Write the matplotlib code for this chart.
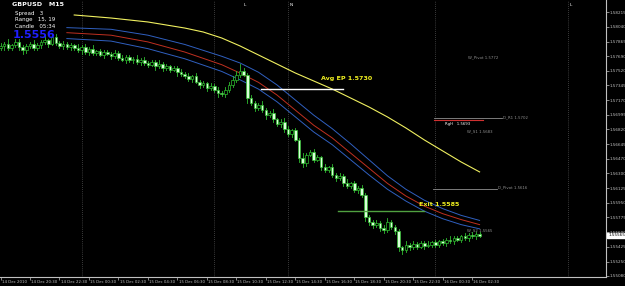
import matplotlib
matplotlib.use("Agg")
import matplotlib.pyplot as plt
from matplotlib.patches import Rectangle

# ---------------- data ----------------
closes = [1.5781, 1.5784, 1.5779, 1.5782, 1.5786, 1.5780, 1.5776, 1.5781, 1.5784, 1.5779,
          1.5782, 1.5786, 1.5788, 1.5784, 1.5792, 1.5785, 1.5781, 1.5784, 1.5780, 1.5782,
          1.5779, 1.5776, 1.5780, 1.5774, 1.5778, 1.5773, 1.5775, 1.5771, 1.5774, 1.5772,
          1.5769, 1.5773, 1.5767, 1.5765, 1.5768, 1.5764, 1.5766, 1.5762, 1.5765, 1.5761,
          1.5759, 1.5762, 1.5757, 1.5760, 1.5755, 1.5757, 1.5753, 1.5755, 1.5750, 1.5748,
          1.5746, 1.5742, 1.5745, 1.5739, 1.5735, 1.5737, 1.5731, 1.5734, 1.5729, 1.5725,
          1.5724, 1.5729, 1.5735, 1.5741, 1.5747, 1.5752,
          1.5747, 1.5719, 1.5714, 1.5708,
          1.5711, 1.5705, 1.5699, 1.5702, 1.5694, 1.5688, 1.5691, 1.5683, 1.5677, 1.5681,
          1.5670, 1.5648, 1.5642, 1.5652, 1.5655, 1.5646, 1.5649, 1.5638, 1.5634, 1.5637,
          1.5628, 1.5624, 1.5627, 1.5619, 1.5615, 1.5618, 1.5610, 1.5613, 1.5604, 1.5578,
          1.5572, 1.5568, 1.5571, 1.5565, 1.5563, 1.5572, 1.5566, 1.5561, 1.5542, 1.5539,
          1.5545, 1.5542, 1.5546, 1.5543, 1.5547, 1.5544, 1.5545, 1.5548, 1.5545, 1.5549,
          1.5547, 1.5551, 1.5549, 1.5553, 1.5551, 1.5555, 1.5553, 1.5557, 1.5555, 1.5558, 1.5556]
first_open = 1.5779
wick_up = [4, 2, 5, 2, 3, 4, 2, 3, 2, 4, 3, 2, 5, 2, 4, 3, 2, 3, 2, 3,
           2, 4, 2, 3, 2, 4, 2, 3, 2, 3, 2, 4, 2, 3, 2, 3, 2, 4, 2, 3,
           2, 3, 2, 4, 2, 3, 2, 3, 2, 4, 2, 3, 2, 4, 2, 3, 2, 3, 2, 3,
           3, 4, 3, 4, 5, 8, 3, 2, 4, 2, 3, 5, 3, 2, 4, 2, 3, 5, 3, 2,
           3, 2, 6, 2, 3, 4, 3, 2, 3, 2, 4, 2, 3, 2, 4, 2, 3, 2, 3, 2,
           3, 2, 4, 2, 3, 5, 3, 2, 3, 2, 4, 2, 3, 2, 3, 2, 4, 2, 3, 2,
           3, 2, 4, 2, 3, 2, 4, 2, 3, 2, 2]
wick_dn = [2, 4, 2, 3, 2, 3, 4, 3, 2, 3, 2, 3, 2, 4, 2, 3, 2, 3, 2, 3,
           3, 2, 4, 2, 3, 2, 3, 2, 4, 2, 3, 2, 3, 2, 4, 2, 3, 2, 3, 2,
           3, 2, 4, 2, 3, 2, 3, 2, 4, 2, 3, 2, 3, 2, 4, 2, 3, 2, 3, 4,
           2, 3, 2, 3, 2, 3, 2, 5, 3, 4, 3, 2, 4, 2, 3, 2, 3, 4, 3, 4,
           2, 5, 4, 3, 2, 3, 2, 4, 2, 3, 2, 3, 2, 4, 2, 3, 2, 3, 2, 5,
           3, 3, 2, 3, 4, 3, 2, 3, 4, 5, 2, 3, 2, 3, 2, 4, 2, 3, 2, 3,
           2, 3, 2, 3, 2, 3, 2, 3, 2, 3, 2]

ma_idx = [20, 30, 40, 50, 55, 60, 65, 70, 75, 80, 85, 90, 95, 100, 105, 110, 115, 120, 125, 130]
ma_yellow = [1.58180, 1.58144, 1.58097, 1.58025, 1.57978, 1.57907, 1.57812, 1.57705, 1.57598, 1.57491,
             1.57396, 1.57301, 1.57194, 1.57087, 1.56969, 1.56838, 1.56696, 1.56565, 1.56434, 1.56316]
band_idx = [18, 30, 40, 50, 60, 65, 70, 75, 80, 85, 90, 95, 100, 105, 110, 115, 120, 125, 130]
ma_red = [1.5797, 1.5794, 1.5786, 1.5774, 1.5759, 1.5749, 1.5738, 1.5723, 1.5705, 1.5687,
          1.5672, 1.5654, 1.5636, 1.5618, 1.5603, 1.5591, 1.5582, 1.5575, 1.5569]
ma_blue_up = [1.5803, 1.5801, 1.5794, 1.5783, 1.5769, 1.5761, 1.5750, 1.5735, 1.5717, 1.5699,
              1.5683, 1.5665, 1.5646, 1.5627, 1.5611, 1.5598, 1.5588, 1.5580, 1.5574]
ma_blue_dn = [1.5790, 1.5787, 1.5778, 1.5766, 1.5751, 1.5741, 1.5730, 1.5715, 1.5697, 1.5679,
              1.5664, 1.5646, 1.5628, 1.5611, 1.5597, 1.5585, 1.5576, 1.5569, 1.5564]

price_ticks = [1.58215, 1.58040, 1.57865, 1.57690, 1.57520, 1.57345, 1.57170, 1.56995, 1.56820,
               1.56645, 1.56470, 1.56300, 1.56125, 1.55950, 1.55775, 1.55600, 1.55425, 1.55250, 1.55080]
time_idx = [0, 8, 16, 24, 32, 40, 48, 56, 64, 72, 80, 88, 96, 104, 112, 120, 128]
time_labels = ["14 Dec 2010", "14 Dec 20:30", "14 Dec 22:30", "15 Dec 00:30", "15 Dec 02:30",
               "15 Dec 04:30", "15 Dec 06:30", "15 Dec 08:30", "15 Dec 10:30", "15 Dec 12:30",
               "15 Dec 14:30", "15 Dec 16:30", "15 Dec 18:30", "15 Dec 20:30", "15 Dec 22:30",
               "16 Dec 00:30", "16 Dec 02:30"]
separators = [22, 58, 78, 118, 154]
current_price = 1.55565

avg_ep = 1.5730
exit_level = 1.5585
d_r1 = 1.5696
rgh = 1.5693
d_pivot = 1.5611

# --------------- figure ---------------
W, H = 625, 286
fig = plt.figure(figsize=(W / 100, H / 100), dpi=100, facecolor="black")
ax = fig.add_axes([0, 9 / H, 606 / W, 277 / H], facecolor="black")
ax.set_xlim(-0.14, 164.3)
ax.set_ylim(1.55068, 1.58358)

green = "#2fbf2f"
opens = [first_open] + closes[:-1]
for i, (o, c) in enumerate(zip(opens, closes)):
    hi = max(o, c) + wick_up[i] * 0.0001
    lo = min(o, c) - wick_dn[i] * 0.0001
    ax.plot([i, i], [lo, hi], color=green, lw=0.6, zorder=3)
    fc = "black" if c > o else "#d8ffd8"
    b = abs(c - o)
    if b < 0.00005:
        ax.plot([i - 0.35, i + 0.35], [c, c], color=green, lw=0.6, zorder=4)
    else:
        ax.add_patch(Rectangle((i - 0.35, min(o, c)), 0.7, b, facecolor=fc,
                               edgecolor=green, lw=0.5, zorder=4))

ax.plot(ma_idx, ma_yellow, color="#f0f060", lw=0.8, zorder=2)
ax.plot(band_idx, ma_blue_up, color="#3060c0", lw=0.7, zorder=2)
ax.plot(band_idx, ma_red, color="#c03020", lw=0.7, zorder=2)
ax.plot(band_idx, ma_blue_dn, color="#3060c0", lw=0.7, zorder=2)

for s in separators:
    ax.axvline(s, color="#707070", lw=0.5, ls=(0, (1, 2)), zorder=1)

# levels
ax.plot([70.7, 93], [avg_ep, avg_ep], color="white", lw=1.0, zorder=5)
ax.text(87, avg_ep + 0.0013, "Avg EP 1.5730", color="#f0f020", fontsize=4.6,
        fontweight="bold", va="center", ha="left", zorder=6)
ax.plot([91.6, 114.8], [exit_level, exit_level], color="#50a040", lw=1.0, zorder=5)
ax.text(113.5, exit_level + 0.0008, "Exit 1.5585", color="#f0f020", fontsize=4.6,
        fontweight="bold", va="center", ha="left", zorder=6)

ax.plot([117.5, 136.2], [d_r1, d_r1], color="#909090", lw=0.6, zorder=5)
ax.text(136.4, d_r1, "D_R1 1.5702", color="#909090", fontsize=2.8, va="center", ha="left")
ax.plot([117.7, 130.8], [rgh, rgh], color="#d03030", lw=0.8, zorder=5)
ax.text(120.5, rgh - 0.0004, "RgH   1.5693", color="white", fontsize=2.8, va="center", ha="left")
ax.text(126.6, 1.5680, "W_S1 1.5683", color="#909090", fontsize=2.8, va="center", ha="left")
ax.text(126.9, 1.5768, "W_Pivot 1.5772", color="#909090", fontsize=2.8, va="center", ha="left")
ax.plot([117.3, 134.8], [d_pivot, d_pivot], color="#909090", lw=0.6, zorder=5)
ax.text(135.0, d_pivot + 0.0002, "D_Pivot 1.5616", color="#909090", fontsize=2.8, va="center", ha="left")
ax.text(126.6, 1.5562, "W_S2 1.5565", color="#909090", fontsize=2.8, va="center", ha="left")

# axes styling
for sp in ["top", "left"]:
    ax.spines[sp].set_visible(False)
for sp in ["right", "bottom"]:
    ax.spines[sp].set_color("#c0c0c0")
    ax.spines[sp].set_linewidth(0.8)
ax.yaxis.tick_right()
ax.set_yticks(price_ticks)
ax.set_yticklabels([f"{p:.5f}" for p in price_ticks], fontsize=3.0, color="#c0c0c0")
ax.tick_params(axis="y", length=2, width=0.5, color="#c0c0c0", pad=0.5)
ax.set_xticks(time_idx)
ax.set_xticklabels([])
ax.tick_params(axis="x", length=2, width=0.5, color="#c0c0c0", direction="out")
for t, lab in zip(time_idx, time_labels):
    ax.text(t + 0.3, -0.017, lab, transform=ax.get_xaxis_transform(), fontsize=2.8,
            color="#c0c0c0", ha="left", va="center")

# current price box
ax.text(1.0035, current_price, f"{current_price:.5f}", transform=ax.get_yaxis_transform(),
        fontsize=3.0, color="black", va="center", ha="left",
        bbox=dict(boxstyle="square,pad=0.15", fc="white", ec="white"), clip_on=False)

# info block
fig.text(12 / W, 1 - 5 / H, "GBPUSD   M15", color="white", fontsize=4.6, fontweight="bold",
         va="center", ha="left")
fig.text(15 / W, 1 - 13 / H, "Spread   3", color="white", fontsize=4.0, va="center", ha="left")
fig.text(15 / W, 1 - 20 / H, "Range   15, 19", color="white", fontsize=4.0, va="center", ha="left")
fig.text(15 / W, 1 - 27 / H, "Candle   05:34", color="white", fontsize=4.0, va="center", ha="left")
fig.text(13 / W, 1 - 35 / H, "1.5556", color="#1f1fff", fontsize=8, fontweight="bold",
         va="center", ha="left")

# session letters
for xi, letter in [(66, "L"), (78.5, "N"), (154.5, "L")]:
    ax.text(xi, 0.99, letter, transform=ax.get_xaxis_transform(), color="white",
            fontsize=3.2, va="top", ha="left")

fig.savefig("out.png", dpi=100, facecolor="black")
